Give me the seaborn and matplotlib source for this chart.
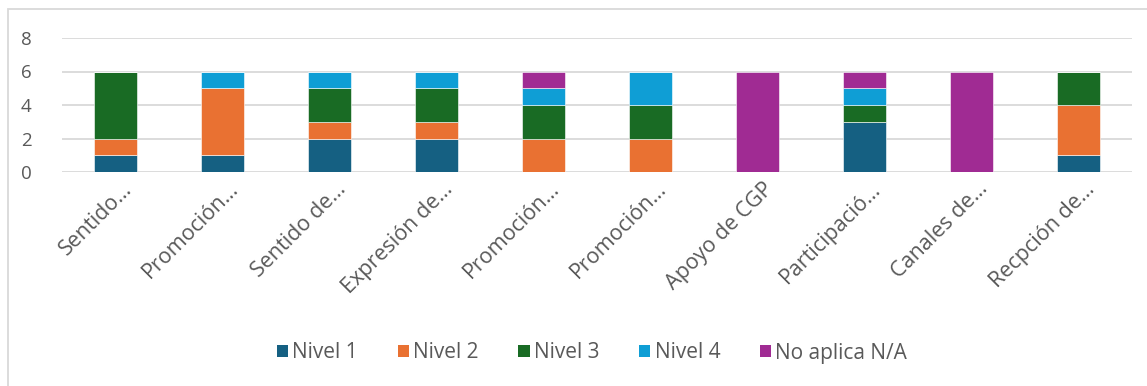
import matplotlib
matplotlib.use("Agg")
import matplotlib.pyplot as plt
import matplotlib.transforms as mtransforms
from matplotlib.patches import Rectangle, Patch
import seaborn as sns
import pandas as pd
import numpy as np

categories = ["Sentido…", "Promoción…", "Sentido de…", "Expresión de…", "Promoción…",
              "Promoción…", "Apoyo de CGP", "Participació…", "Canales de…", "Recpción de…"]
series = ["Nivel 1", "Nivel 2", "Nivel 3", "Nivel 4", "No aplica N/A"]
nivel_1 = [1, 1, 2, 2, 0, 0, 0, 3, 0, 1]
nivel_2 = [1, 4, 1, 1, 2, 2, 0, 0, 0, 3]
nivel_3 = [4, 0, 2, 2, 2, 2, 0, 1, 0, 2]
nivel_4 = [0, 1, 1, 1, 1, 2, 0, 1, 0, 0]
no_aplica = [0, 0, 0, 0, 1, 0, 6, 1, 6, 0]
colors = ["#156082", "#E97132", "#196B24", "#0F9ED5", "#A02B93"]

values = [nivel_1, nivel_2, nivel_3, nivel_4, no_aplica]
pos_labels = [f"{i}" for i in range(len(categories))]

sns.set_theme(style="white")
plt.rcParams["font.family"] = ["Open Sans", "DejaVu Sans"]

fig = plt.figure(figsize=(11.47, 3.86), dpi=100)
ax = fig.add_axes([62 / 1147, 1 - 172 / 386, (1132 - 62) / 1147, (172 - 38) / 386])

# stacked bars, one seaborn layer per level
bottom = np.zeros(len(categories))
for name, vals, col in zip(series, values, colors):
    df = pd.DataFrame({"pos": pos_labels, "val": vals})
    sns.barplot(data=df, x="pos", y="val", color=col, bottom=bottom, width=0.4,
                edgecolor="white", linewidth=0.4, ax=ax, saturation=1, errorbar=None)
    bottom = bottom + np.array(vals)

ax.set_ylim(0, 8)
ax.set_xlim(-0.5, len(categories) - 0.5)
ax.set_yticks([0, 2, 4, 6, 8])
ax.yaxis.grid(True, color="#D9D9D9", linewidth=1.3)
ax.set_axisbelow(True)
for s in ax.spines.values():
    s.set_visible(False)
ax.set_xlabel("")
ax.set_ylabel("")
ax.tick_params(axis="y", labelsize=13.5, labelcolor="#595959", pad=22, length=0)
ax.set_xticks(range(len(categories)))
ax.set_xticklabels(categories, rotation=45, ha="right", va="center", rotation_mode="anchor",
                   fontsize=15.5, color="#595959")
ax.tick_params(axis="x", length=0, pad=10)
shift = mtransforms.ScaledTranslation(13 / 100, 0, fig.dpi_scale_trans)
for lbl in ax.get_xticklabels():
    lbl.set_transform(lbl.get_transform() + shift)

handles = [Patch(facecolor=c, edgecolor="none") for c in colors]
fig.legend(handles, series, loc="center", bbox_to_anchor=(592 / 1147, 1 - 353 / 386),
           ncol=5, frameon=False, fontsize=15, labelcolor="#595959",
           handlelength=0.55, handleheight=0.55, handletextpad=0.2, columnspacing=1.9)

fig.patches.append(Rectangle((8 / 1147, -0.1), 1.2, 1 - 9 / 386 + 0.1, transform=fig.transFigure,
                             fill=False, edgecolor="#D9D9D9", linewidth=1.3))

fig.savefig("out.png", dpi=100)
